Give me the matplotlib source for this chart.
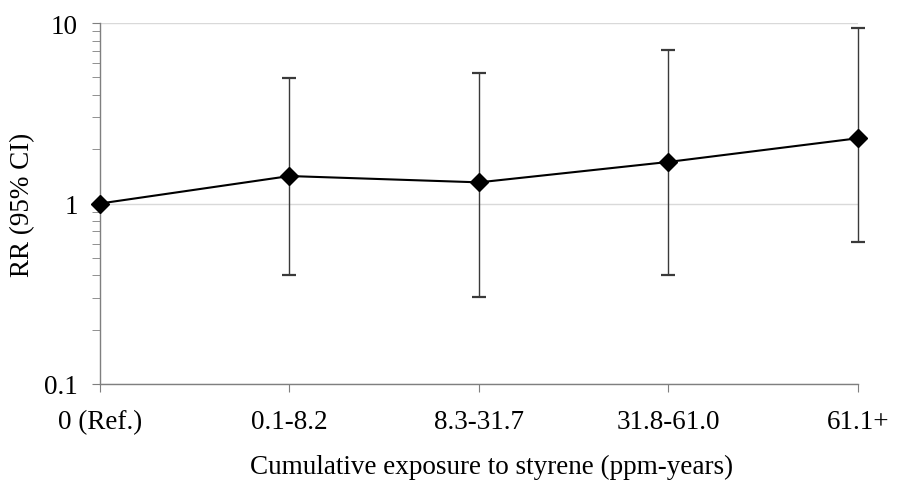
import matplotlib.pyplot as plt
import numpy as np
from matplotlib.ticker import FixedLocator, LogLocator, NullFormatter

plt.rcParams['font.family'] = ['Liberation Serif', 'DejaVu Serif']

groups = ['0 (Ref.)', '0.1-8.2', '8.3-31.7', '31.8-61.0', '61.1+']
rr = [1.0, 1.42, 1.31, 1.70, 2.30]
ci_low = [np.nan, 0.40, 0.305, 0.40, 0.61]
ci_high = [np.nan, 4.99, 5.27, 7.1, 9.38]

fig = plt.figure(figsize=(9.03, 4.81), dpi=100)
ax = fig.add_axes([0.1107, 0.1996, 0.8394, 0.7504])

x = np.arange(len(groups))
rr_a = np.array(rr)
lo = np.nan_to_num(rr_a - np.array(ci_low))
hi = np.nan_to_num(np.array(ci_high) - rr_a)

eb = ax.errorbar(x[1:], rr_a[1:], yerr=[lo[1:], hi[1:]], fmt='none',
                 ecolor='#3a3a3a', elinewidth=1.0, capsize=5, capthick=1.6, zorder=2)
for art in eb.lines[1] + eb.lines[2]:
    art.set_clip_on(False)
ax.plot(x, rr, color='black', linewidth=1.5, marker='D', markersize=9,
        markerfacecolor='black', zorder=3, clip_on=False)

ax.set_yscale('log')
ax.set_ylim(0.1, 10)
ax.set_xlim(0, len(groups) - 1)
ax.yaxis.set_major_locator(FixedLocator([0.1, 1, 10]))
ax.set_yticklabels(['0.1', '1', '10'])
ax.yaxis.set_minor_locator(LogLocator(base=10, subs=np.arange(2, 10)))
ax.yaxis.set_minor_formatter(NullFormatter())
ax.set_xticks(x)
ax.set_xticklabels(groups)

ax.grid(axis='y', which='major', color='#d9d9d9', linewidth=1.0)
ax.set_axisbelow(True)
for s in ['top', 'right']:
    ax.spines[s].set_visible(False)
for s in ['left', 'bottom']:
    ax.spines[s].set_color('#7f7f7f')
    ax.spines[s].set_linewidth(1.0)
    ax.spines[s].set_zorder(1)

ax.tick_params(axis='both', which='major', direction='out', length=6,
               color='#7f7f7f', labelsize=19.5)
ax.tick_params(axis='y', which='major', pad=10)
ax.tick_params(axis='y', which='minor', direction='out', length=6, color='#7f7f7f')
ax.tick_params(axis='x', pad=12)

ax.set_ylabel('RR (95% CI)', fontsize=19.5)
ax.yaxis.set_label_coords(-0.086, 0.5)
ax.set_xlabel('Cumulative exposure to styrene (ppm-years)', fontsize=19.5)
ax.xaxis.set_label_coords(0.516, -0.193)

fig.savefig('out.png', dpi=100)
